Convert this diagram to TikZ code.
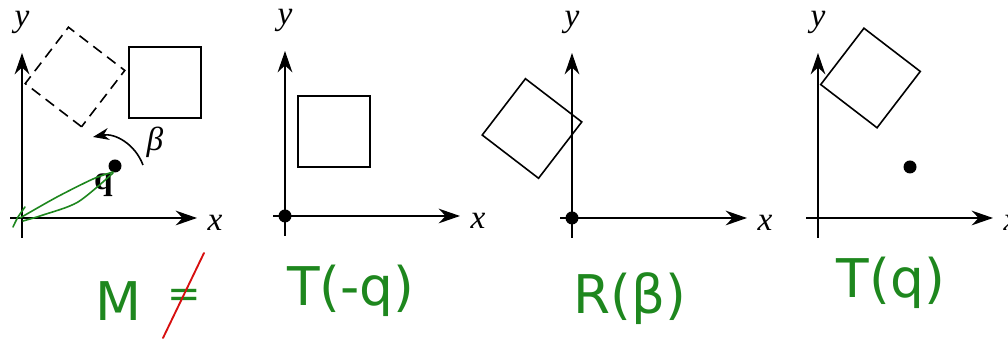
\documentclass[tikz,border=0pt]{standalone}
\usepackage{fontspec}
\setmainfont{Liberation Serif}
\newfontfamily\handfont{DejaVu Sans}
\usetikzlibrary{arrows.meta}
\definecolor{ink}{RGB}{30,135,30}
\definecolor{redink}{RGB}{215,15,15}

\begin{document}
\begin{tikzpicture}[x=0.75pt,y=0.75pt,
  axis/.style={line width=1.5pt,-{Stealth[length=16pt,width=11pt]}},
  box/.style={line width=1.2pt},
  dot/.style={circle,fill,inner sep=0pt,minimum size=9.75pt},
  lbl/.style={font=\fontsize{25}{30}\selectfont\itshape},
  hand/.style={text=ink,font=\fontsize{40}{44}\handfont},
  pen/.style={draw=ink,line width=1.2pt,line cap=round,line join=round}]
\useasboundingbox (0,0) rectangle (1008,341);

% the four frames
\foreach \ox/\oy/\n in {22/123/1,285/125/2,572/123/3,818/123/4}
{
\draw[axis] (\ox-12,\oy) -- (\ox+175,\oy);
\draw[axis] (\ox,\oy-20) -- (\ox,\oy+165);
\node[lbl] (x\n) at (\ox+193,\oy-5) {x};
\node[lbl] (y\n) at (\ox,\oy+196) {y};
}

% M
\begin{scope}[shift={(22,123)}]
\draw[box,dash pattern=on 8pt off 5pt,rotate around={52.5:(53,141)}] (17.5,105.5) rectangle (88.5,176.5);
\draw[box] (107,100) rectangle (179,171);
\node[dot] (q1) at (93,52) {};
\node[lbl,font=\fontsize{25}{30}\selectfont\bfseries] (qlab) at (81.5,33) {q};
\draw[line width=1.2pt,-{Stealth[length=12pt,width=9pt]}] (121,53) to[bend right=40] (71,81);
\node[lbl] (beta) at (133,76) {β};
% green arrow back to the origin
\draw[pen] plot[smooth] coordinates {(91,46) (71,39) (35,21) (-2,0)};
\draw[pen] plot[smooth] coordinates {(91,45) (56,16) (21,3) (1,-3)};
\draw[pen] plot[smooth] coordinates {(3,11) (-4,1) (-9,-9)};
\end{scope}

% T(-q)
\begin{scope}[shift={(285,125)}]
\draw[box] (13,49) rectangle (85,120);
\node[dot] (o2) at (0,0) {};
\end{scope}

% R(beta)
\begin{scope}[shift={(572,123)}]
\draw[box,rotate around={52.5:(-40,89.5)}] (-75.5,54) rectangle (-4.5,125);
\node[dot] (o3) at (0,0) {};
\end{scope}

% T(q)
\begin{scope}[shift={(818,123)}]
\draw[box,rotate around={52.5:(52.5,140)}] (17,104.5) rectangle (88,175.5);
\node[dot] (q4) at (92,51) {};
\end{scope}

% notes
\node[hand] (m) at (119,40) {M};
\node[hand,font=\fontsize{30}{32}\handfont] (eq) at (184,43) {=};
\draw[draw=redink,line width=1.4pt,line cap=round] (204,88) -- (163,3);
\node[hand] (tmq) at (351,50) {T(-q)};
\node[hand] (rb) at (630,42) {R(β)};
\node[hand] (tq) at (891,58) {T(q)};
\end{tikzpicture}
\end{document}
